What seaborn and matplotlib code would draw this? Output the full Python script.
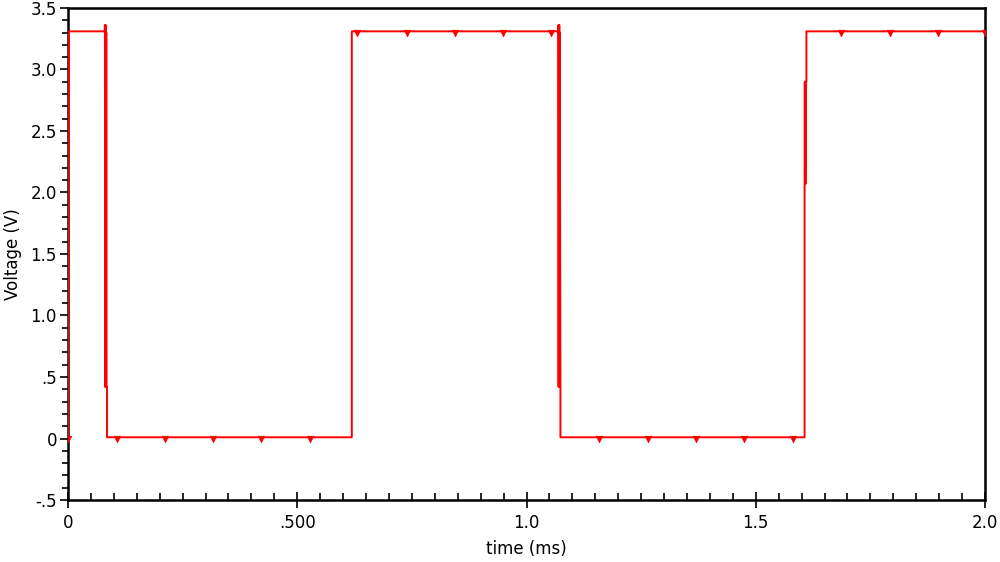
import numpy as np
import seaborn as sns
import matplotlib.pyplot as plt
import pandas as pd
from matplotlib.ticker import MultipleLocator, FixedLocator, FixedFormatter

# waveform (time in ms, voltage in V)
time_ms = [0.0, 0.002, 0.0800, 0.0805, 0.0810, 0.0815, 0.0820, 0.0825, 0.0830,
           0.0835, 0.0840, 0.0850, 0.0850, 0.6190, 0.6190, 1.0690, 1.0695,
           1.0700, 1.0705, 1.0710, 1.0715, 1.0720, 1.0725, 1.0740, 1.0740,
           1.6065, 1.6065, 1.6070, 1.6075, 1.6080, 1.6085, 1.6090, 1.6105,
           1.6105, 2.0]
volts = [0.0, 3.31, 3.31, 3.36, 0.42, 3.36, 0.42, 3.36, 0.42,
         3.30, 0.42, 0.42, 0.01, 0.01, 3.31, 3.31, 3.36,
         0.42, 3.36, 0.42, 3.36, 0.42, 3.30, 0.42, 0.01,
         0.01, 2.07, 2.90, 2.07, 2.90, 2.07, 2.90, 2.90,
         3.31, 3.31]

# sample markers along the trace
mark_t = [0.0, 0.107, 0.212, 0.316, 0.421, 0.528, 0.630, 0.739, 0.844, 0.949,
          1.053, 1.158, 1.265, 1.370, 1.474, 1.581, 1.686, 1.793, 1.897, 2.0]
mark_v = [0.0, 0.0, 0.0, 0.0, 0.0, 0.0, 3.30, 3.30, 3.30, 3.30,
          3.30, 0.0, 0.0, 0.0, 0.0, 0.0, 3.30, 3.30, 3.30, 3.30]

y_ticks = [-0.5, 0.0, 0.5, 1.0, 1.5, 2.0, 2.5, 3.0, 3.5]
y_labels = ["-.5", "0", ".5", "1.0", "1.5", "2.0", "2.5", "3.0", "3.5"]
x_ticks = [0.0, 0.5, 1.0, 1.5, 2.0]
x_labels = ["0", ".500", "1.0", "1.5", "2.0"]

df = pd.DataFrame({"time": time_ms, "V": volts})
dm = pd.DataFrame({"time": mark_t, "V": mark_v})

sns.set_style("white")
plt.rcParams['font.family'] = ['DejaVu Sans']
plt.rcParams['text.color'] = 'black'
plt.rcParams['axes.labelcolor'] = 'black'
plt.rcParams['xtick.color'] = 'black'
plt.rcParams['ytick.color'] = 'black'

fig = plt.figure(figsize=(10, 5.62), dpi=100)
ax = fig.add_axes([0.068, 0.1103, 0.917, 0.8755])

sns.lineplot(data=df, x="time", y="V", sort=False, estimator=None,
             color="#ff0000", linewidth=1.4, ax=ax, zorder=3)
sns.scatterplot(data=dm, x="time", y="V", marker="v", s=22, color="#ff0000",
                edgecolor="#ff0000", linewidth=0.5, ax=ax, zorder=4)

ax.set_xlim(0, 2.0)
ax.set_ylim(-0.5, 3.5)

ax.yaxis.set_major_locator(FixedLocator(y_ticks))
ax.yaxis.set_major_formatter(FixedFormatter(y_labels))
ax.yaxis.set_minor_locator(MultipleLocator(0.1))
ax.xaxis.set_major_locator(FixedLocator(x_ticks))
ax.xaxis.set_major_formatter(FixedFormatter(x_labels))
ax.xaxis.set_minor_locator(MultipleLocator(0.05))

ax.tick_params(axis="y", which="major", direction="out", length=6, width=1.2,
               labelsize=12, pad=2, left=True)
ax.tick_params(axis="y", which="minor", direction="out", length=4, width=1.2, left=True)
ax.tick_params(axis="x", which="major", direction="inout", length=12, width=1.2,
               labelsize=12, pad=4, bottom=True)
ax.tick_params(axis="x", which="minor", direction="in", length=5, width=1.2, bottom=True)

for s in ax.spines.values():
    s.set_color("black")
    s.set_linewidth(1.8)
    s.set_zorder(2.5)

ax.set_xlabel("time (ms)", fontsize=12, labelpad=6)
ax.set_ylabel("Voltage (V)", fontsize=12, labelpad=6)

fig.savefig("out.png", dpi=100)
